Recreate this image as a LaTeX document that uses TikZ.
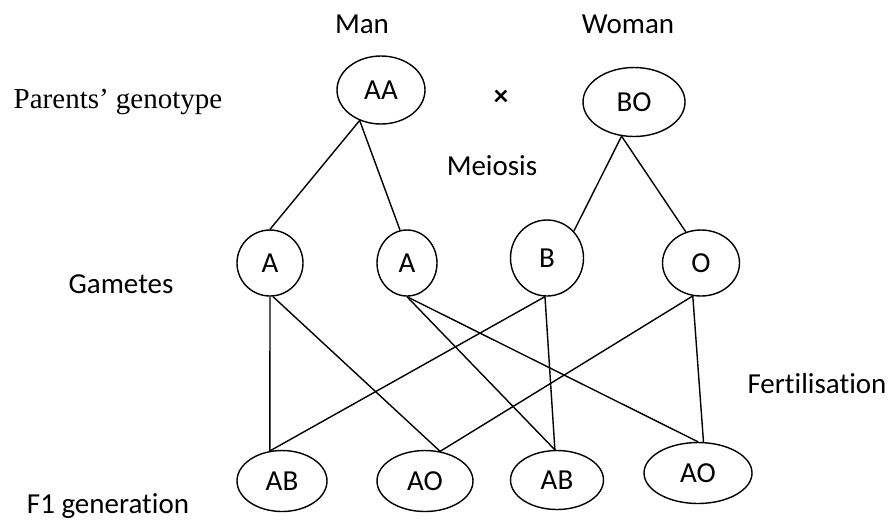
\documentclass[tikz,border=0pt]{standalone}
\usepackage{fontspec}
\setmainfont{Carlito}[Ligatures=NoCommon]
\newfontfamily\timesfont{Liberation Serif}
\usetikzlibrary{shapes.geometric}

\begin{document}
\begin{tikzpicture}[line width=0.8pt,
  every node/.style={font=\fontsize{16.5}{20}\selectfont},
  gene/.style={ellipse,draw,inner sep=0pt},
  lbl/.style={anchor=base}]
  \useasboundingbox (0,0) rectangle (17.88,-10.44);
  % labels
  \node[lbl] (man) at (7.24,-0.66) {Man};
  \node[lbl] (woman) at (12.56,-0.66) {Woman};
  \node[lbl,font=\fontsize{16.5}{20}\timesfont] (par) at (2.36,-2.16) {Parents’ genotype};
  \node (cross) at (10.02,-1.96) {\textbf{×}};
  \node[lbl] (mei) at (9.84,-3.50) {Meiosis};
  \node[lbl] (gam) at (2.42,-5.86) {Gametes};
  \node[lbl] (fer) at (16.34,-7.86) {Fertilisation};
  \node[lbl] (fone) at (2.16,-10.27) {F1 generation};
  % parents
  \node[gene,minimum width=1.76cm,minimum height=1.36cm] (aa) at (7.62,-1.80) {AA};
  \node[gene,minimum width=2.04cm,minimum height=1.38cm] (bo) at (12.68,-2.04) {BO};
  % gametes
  \node[gene,minimum width=1.32cm,minimum height=1.32cm] (a1) at (5.40,-5.26) {A};
  \node[gene,minimum width=1.20cm,minimum height=1.32cm] (a2) at (8.14,-5.26) {A};
  \node[gene,minimum width=1.46cm,minimum height=1.52cm] (b) at (10.94,-5.16) {B};
  \node[gene,minimum width=1.54cm,minimum height=1.32cm] (o) at (14.02,-5.26) {\raisebox{-2pt}{O}};
  % offspring
  \node[gene,minimum width=1.80cm,minimum height=1.22cm] (ab1) at (5.64,-9.62) {\raisebox{-2pt}{AB}};
  \node[gene,minimum width=1.92cm,minimum height=1.22cm] (ao1) at (8.50,-9.62) {\raisebox{-2pt}{AO}};
  \node[gene,minimum width=1.86cm,minimum height=1.18cm] (ab2) at (11.14,-9.60) {\raisebox{-2pt}{AB}};
  \node[gene,minimum width=2.16cm,minimum height=1.22cm] (ao2) at (13.96,-9.46) {AO};
  % meiosis
  \draw (aa.-125) -- (a1.90);
  \draw (aa.-125) -- (a2.102);
  \draw (bo.-110) -- (b.45);
  \draw (bo.-110) -- (o.116);
  % fertilisation
  \draw (a1.-90) -- (ab1.112);
  \draw (a1.-85) -- (ao1.63);
  \draw (a2.-90) -- (ab2.94);
  \draw (a2.-90) -- (ao2.90);
  \draw (b.-93) -- (ab1.112);
  \draw (b.-93) -- (ab2.94);
  \draw (o.-104) -- (ao1.63);
  \draw (o.-104) -- (ao2.80);
\end{tikzpicture}
\end{document}
